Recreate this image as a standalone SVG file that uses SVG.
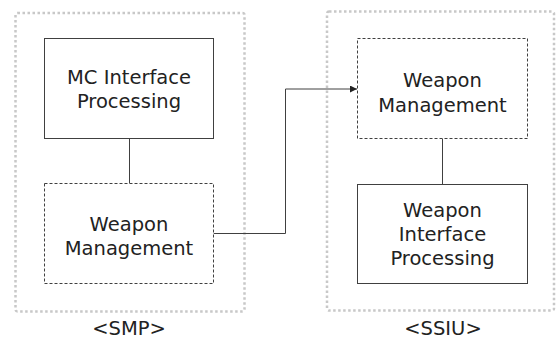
<svg xmlns="http://www.w3.org/2000/svg" width="556" height="343" viewBox="0 0 556 343">
<defs>
<style>
.group{fill:none;stroke:#c8c8c8;stroke-width:2.5;stroke-dasharray:2.5 2.5}
.solid{fill:#fff;stroke:#404040;stroke-width:1}
.dashed{fill:#fff;stroke:#404040;stroke-width:1;stroke-dasharray:3 2}
.lbl{font-family:"DejaVu Sans","Noto Sans",sans-serif;font-size:19.5px;fill:#222;text-anchor:middle}
.conn{fill:none;stroke:#404040;stroke-width:1}
</style>
<marker id="arr" viewBox="0 0 10 10" refX="10" refY="5" markerWidth="7" markerHeight="7" markerUnits="userSpaceOnUse" orient="auto">
<path d="M0,0 L10,5 L0,10 z" fill="#222"/>
</marker>
</defs>
<rect width="556" height="343" fill="#fff"/>
<g id="smp">
<rect class="group" x="15.5" y="13" width="229" height="298.5" rx="2"/>
<text class="lbl" x="129" y="335">&lt;SMP&gt;</text>
</g>
<g id="ssiu">
<rect class="group" x="327" y="11.5" width="227" height="299" rx="2"/>
<text class="lbl" x="443" y="335">&lt;SSIU&gt;</text>
</g>
<g id="connectors">
<line class="conn" x1="129.5" y1="138.5" x2="129.5" y2="183.5"/>
<line class="conn" x1="442.5" y1="138.5" x2="442.5" y2="184.5"/>
<path class="conn" d="M213.5,233.5 H285.5 V89 H357" marker-end="url(#arr)"/>
</g>
<g id="mc-interface">
<rect class="solid" x="44.5" y="38.5" width="169" height="100"/>
<text class="lbl"><tspan x="129" y="84">MC Interface</tspan><tspan x="129" y="108">Processing</tspan></text>
</g>
<g id="smp-weapon-mgmt">
<rect class="dashed" x="44.5" y="183.5" width="169" height="100"/>
<text class="lbl"><tspan x="129" y="231">Weapon</tspan><tspan x="129" y="255">Management</tspan></text>
</g>
<g id="ssiu-weapon-mgmt">
<rect class="dashed" x="357.5" y="38.5" width="170" height="100"/>
<text class="lbl"><tspan x="442.5" y="87">Weapon</tspan><tspan x="442.5" y="112">Management</tspan></text>
</g>
<g id="weapon-interface">
<rect class="solid" x="357.5" y="184.5" width="170" height="99"/>
<text class="lbl"><tspan x="442.5" y="217">Weapon</tspan><tspan x="442.5" y="241">Interface</tspan><tspan x="442.5" y="265">Processing</tspan></text>
</g>
</svg>
